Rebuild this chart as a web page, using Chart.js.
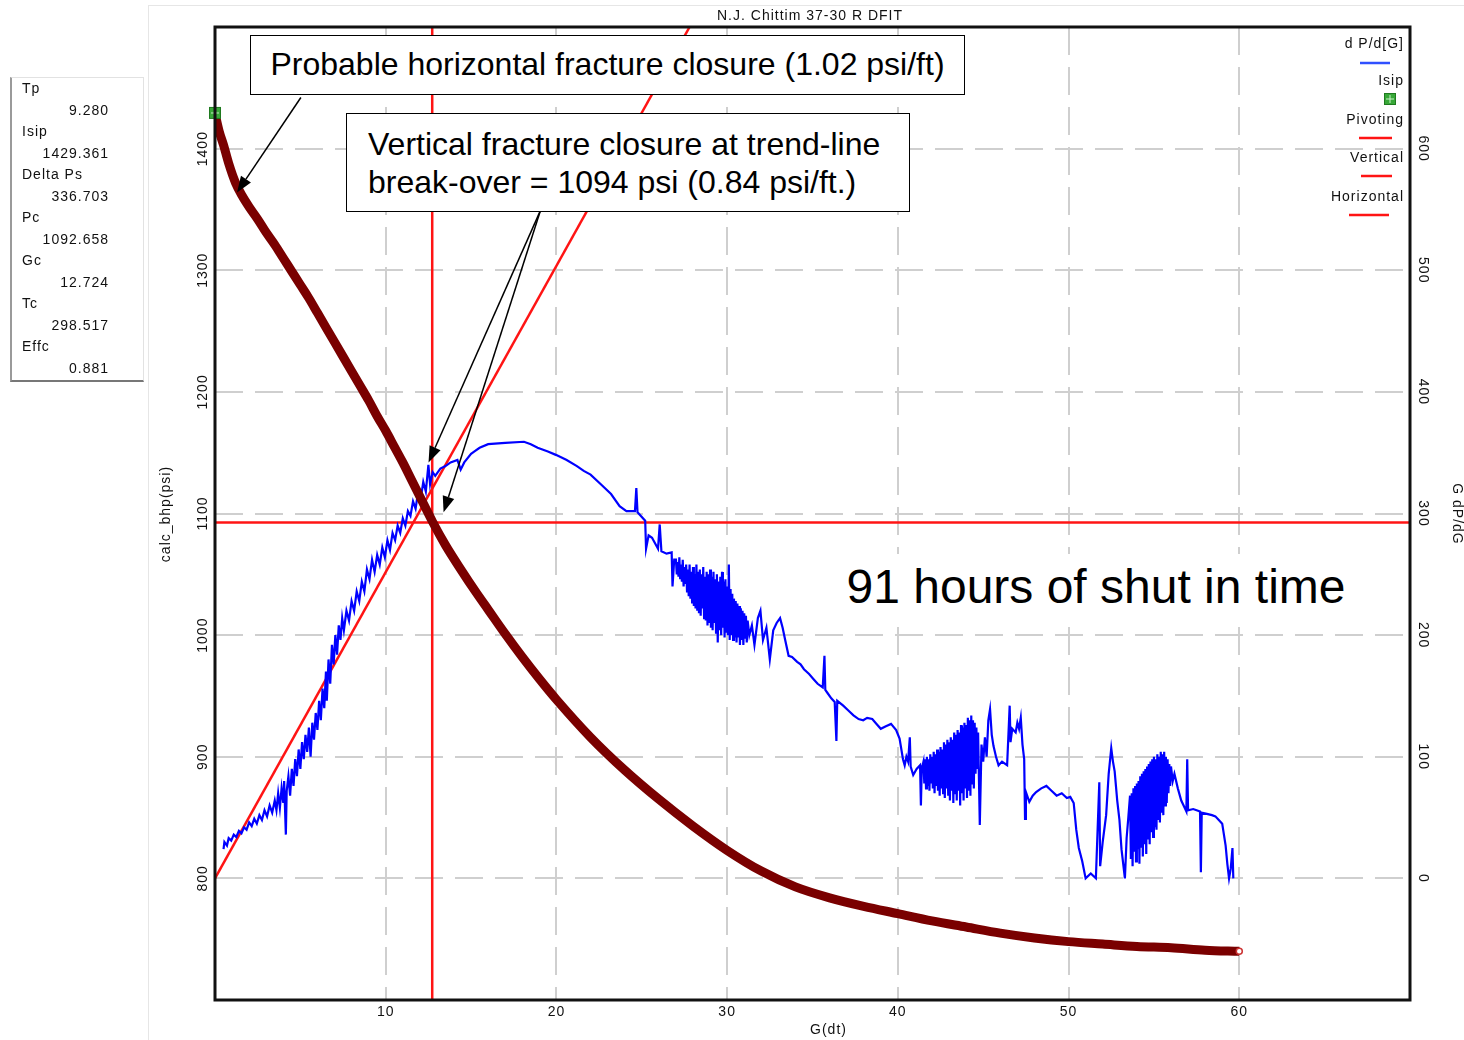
<!DOCTYPE html>
<html>
<head>
<meta charset="utf-8">
<script src="https://cdn.jsdelivr.net/npm/chart.js@4.4.1/dist/chart.umd.min.js"></script>
<style>
  body { margin: 0; background: #fff; font-family: "Liberation Sans", Arial, sans-serif; }
  #wrap { position: relative; width: 1464px; height: 1040px; overflow: hidden; }
  #dfit { position: absolute; left: 0; top: 0; }
  .frameV { position: absolute; left: 148px; top: 5px; width: 1px; height: 1035px; background: #e6e6e6; }
  .frameH { position: absolute; left: 148px; top: 5px; width: 1316px; height: 1px; background: #e6e6e6; }
  .panel { position: absolute; left: 10px; top: 77px; width: 131px; height: 302px;
           border-left: 2px solid #9a9a9a; border-bottom: 2px solid #777; border-top: 1px solid #e2e2e2; border-right: 1px solid #e2e2e2;
           font-size: 14px; letter-spacing: 1px; color: #111; }
  .panel div { height: 21.5px; line-height: 21.5px; }
  .panel .lbl { padding-left: 10px; }
  .panel .val { text-align: right; padding-right: 34px; }
  .note { position: absolute; background: #fff; border: 1.5px solid #000; font-size: 32px; color: #000; box-sizing: border-box; }
  .big { position: absolute; background: #fff; font-size: 48px; color: #000; }
</style>
</head>
<body>
<div id="wrap">
  <canvas id="dfit" width="1464" height="1040"></canvas>
  <div class="frameV"></div>
  <div class="frameH"></div>
  <div class="panel" id="panel"></div>
  <div class="note" style="left:250px;top:35px;width:715px;height:60px;line-height:57px;text-align:center;">Probable horizontal fracture closure (1.02 psi/ft)</div>
  <div class="note" style="left:346px;top:113px;width:564px;height:99px;line-height:38px;padding:11px 0 0 21px;">Vertical fracture closure at trend-line<br>break-over = 1094 psi (0.84 psi/ft.)</div>
  <div class="big" style="left:838px;top:554px;width:516px;height:70px;line-height:66px;text-align:center;">91 hours of shut in time</div>
</div>
<script>
// summary panel
const panelLabels = ["Tp", "Isip", "Delta Ps", "Pc", "Gc", "Tc", "Effc"];
const panelValues = ["9.280", "1429.361", "336.703", "1092.658", "12.724", "298.517", "0.881"];

// axis ticks
const xTicks = [10, 20, 30, 40, 50, 60];
const yTicks = [800, 900, 1000, 1100, 1200, 1300, 1400];
const y2Ticks = [0, 100, 200, 300, 400, 500, 600];

// closure picks
const isip = 1429.361;
const pc = 1092.658;
const gc = 12.724;
// straight trend line through origin on G dP/dG (G, value)
const trendG = [0, 27.8];
const trendV = [0, 700];

// bottom-hole pressure vs G(dt)
const pressureG = [0, 0.25, 0.5, 0.8, 1.2, 1.6, 2.0, 2.5, 3.0, 3.5, 4.0, 4.5, 5.0, 5.5, 6.0, 6.5, 7.0, 7.5, 8.0, 8.5,
  9.0, 9.5, 10.0, 10.5, 11.0, 11.5, 12.0, 12.75, 13.5, 14.4, 15.3, 16, 17, 18, 19, 20, 22, 24, 26, 28,
  30, 32, 34, 36, 38, 40, 42, 44, 46, 48, 50, 52, 54, 56, 58, 60];
const pressurePsi = [1429, 1414, 1403, 1388, 1372, 1361, 1352, 1342, 1331, 1321, 1310, 1299, 1288, 1277, 1265, 1253, 1241, 1229, 1217, 1205,
  1193, 1180, 1168, 1155, 1142, 1128, 1114, 1093, 1074, 1054, 1035, 1021, 1001, 982, 964, 947, 916, 889, 865, 843,
  823, 806, 793, 784, 777, 771, 765, 760, 755, 751, 748, 746, 744, 743, 741, 740];

// G dP/dG readings [G, value]
const gdpdgPoints = [
  [0.5,24],[0.55,30],[0.7,27],[0.8,33],[0.95,31],[1.1,36],[1.25,34],[1.4,39],[1.55,37],[1.7,42],[1.85,40],[2.0,46],
  [2.15,43],[2.3,49],[2.45,45],[2.6,52],[2.75,48],[2.9,56],[3.05,51],[3.2,60],[3.35,54],[3.5,64],[3.6,56],[3.7,70],
  [3.8,58],[3.9,74],[4.0,62],[4.05,80],[4.15,36],[4.2,72],[4.3,84],[4.4,68],[4.5,90],[4.6,76],[4.7,98],[4.8,84],
  [4.9,106],[5.0,90],[5.1,112],[5.2,98],[5.3,118],[5.4,104],[5.5,124],[5.6,100],[5.7,128],[5.8,114],[5.9,136],[6.0,122],
  [6.1,146],[6.2,130],[6.3,156],[6.4,140],[6.5,170],[6.55,146],[6.65,180],[6.75,160],[6.85,192],[6.95,176],[7.05,200],
  [7.15,184],[7.25,208],[7.35,196],[7.45,214],[7.55,204],[7.7,220],[7.85,212],[8.0,228],[8.15,220],[8.3,236],[8.45,228],
  [8.6,244],[8.75,236],[8.9,254],[9.05,246],[9.2,262],[9.35,252],[9.5,266],[9.65,258],[9.8,272],[9.95,264],[10.1,278],
  [10.25,270],[10.4,284],[10.55,278],[10.7,290],[10.85,284],[11.0,296],[11.15,290],[11.3,302],[11.45,298],[11.6,310],
  [11.75,304],[11.9,318],[12.05,312],[12.2,326],[12.35,318],[12.5,340],[12.6,324],[12.75,334],[12.9,331],[13.2,337],
  [13.5,339],[13.8,342],[14.2,344],[14.39,336],[14.6,342],[15.0,349],[15.2,351],[15.5,354],[16.0,357],[17.0,358],
  [18.1,359],[18.5,357],[18.9,354],[19.5,351],[20.0,348],[20.6,344],[21.2,339],[21.6,335],[22.0,332],[22.6,324],
  [23.2,316],[23.7,306],[24.1,302],[24.6,302],[24.68,321],[24.75,301],[25.2,294],[25.25,271],[25.4,282],[25.6,280],
  [25.95,271],[26.05,291],[26.15,269],[26.45,267],[26.75,268],[26.8,240],[26.9,262],
  [27.0,262],[27.05,250],[27.1,260],[27.15,248],[27.2,264],[27.25,246],[27.3,258],[27.35,244],[27.4,262],[27.45,240],
  [27.5,256],[27.55,242],[27.6,258],[27.65,236],[27.7,254],[27.75,232],[27.8,258],[27.85,230],[27.9,252],[27.95,226],
  [28.0,256],[28.05,224],[28.1,250],[28.15,222],[28.2,258],[28.25,220],[28.3,252],[28.35,218],[28.4,254],[28.45,216],
  [28.5,250],[28.55,222],[28.6,256],[28.65,214],[28.7,248],[28.75,212],[28.8,252],[28.85,208],[28.9,250],[28.95,210],
  [29.0,254],[29.05,206],[29.1,248],[29.15,204],[29.2,252],[29.25,210],[29.3,246],[29.35,202],[29.4,250],[29.45,194],
  [29.5,244],[29.55,204],[29.6,248],[29.65,200],[29.7,252],[29.75,206],[29.8,244],[29.85,198],[29.9,246],[29.95,202],
  [30.0,240],[30.05,200],[30.1,258],[30.15,196],[30.2,238],[30.25,200],[30.3,234],[30.35,196],[30.4,230],[30.45,198],
  [30.5,228],[30.55,194],[30.6,226],[30.65,198],[30.7,224],[30.75,192],[30.8,222],[30.85,196],[30.9,220],[30.95,192],
  [31.0,218],[31.05,198],[31.1,216],[31.15,194],[31.2,212],[31.3,200],
  [31.45,208],[31.6,192],[31.8,214],[31.95,220],[32.1,196],[32.3,206],
  [32.5,180],[32.7,204],[32.9,210],[33.1,214],[33.25,206],[33.4,196],[33.6,183],[33.8,182],[34.1,178],[34.3,176],
  [34.5,172],[34.8,168],[35.05,164],[35.3,160],[35.6,157],[35.7,183],[35.75,155],[35.9,152],[36.1,148],[36.3,145],
  [36.4,113],[36.45,146],[36.8,142],[37.1,138],[37.4,134],[37.7,131],[37.97,130],[38.2,132],[38.5,131],[38.75,127],
  [39.0,123],[39.3,125],[39.6,127],[39.9,122],[40.1,115],[40.3,98],[40.4,93],[40.5,100],[40.6,96],[40.7,116],
  [40.75,92],[40.9,85],[41.1,90],[41.3,93],[41.35,60],[41.4,90],
  [41.5,96],[41.55,78],[41.6,98],[41.65,74],[41.7,100],[41.75,76],[41.8,98],[41.85,72],[41.9,102],[41.95,78],
  [42.0,100],[42.05,74],[42.1,104],[42.15,70],[42.2,102],[42.25,76],[42.3,106],[42.35,72],[42.4,104],[42.45,68],
  [42.5,108],[42.55,74],[42.6,106],[42.65,70],[42.7,112],[42.75,66],[42.8,110],[42.85,74],[42.9,114],[42.95,68],
  [43.0,112],[43.05,64],[43.1,116],[43.15,72],[43.2,114],[43.25,62],[43.3,120],[43.35,70],[43.4,118],[43.45,64],
  [43.5,122],[43.55,72],[43.6,120],[43.65,60],[43.7,126],[43.75,70],[43.8,124],[43.85,64],[43.9,128],[43.95,74],
  [44.0,126],[44.05,66],[44.1,132],[44.15,72],[44.2,130],[44.25,68],[44.3,134],[44.35,78],[44.4,130],[44.45,74],
  [44.5,128],[44.55,86],[44.6,124],[44.65,90],[44.7,120],
  [44.8,44],[44.9,110],[45.0,96],[45.1,116],[45.2,100],[45.3,130],[45.4,139],[45.5,118],[45.6,109],[45.75,100],
  [45.9,93],[46.1,96],[46.4,93],[46.55,142],[46.6,112],[46.7,123],[46.9,120],[47.0,128],[47.1,123],[47.2,132],
  [47.3,110],[47.4,98],[47.45,49],[47.5,71],[47.7,63],[47.9,68],[48.1,71],[48.4,74],[48.7,76],[49.0,72],[49.3,68],
  [49.6,70],[49.9,66],[50.1,67],[50.3,62],[50.45,40],[50.6,25],[50.8,14],[51.0,0],[51.3,4],[51.6,0],[51.8,79],
  [51.85,10],[52.0,30],[52.2,52],[52.35,86],[52.5,107],[52.6,96],[52.7,88],[52.85,64],[52.98,48],[53.1,24],[53.3,0],
  [53.4,33],[53.5,50],
  [53.6,68],[53.65,16],[53.7,70],[53.75,10],[53.8,74],[53.85,22],[53.9,76],[53.95,14],[54.0,78],[54.05,24],
  [54.1,80],[54.15,12],[54.2,84],[54.25,26],[54.3,86],[54.35,18],[54.4,88],[54.45,28],[54.5,90],[54.55,20],
  [54.6,92],[54.65,32],[54.7,94],[54.75,28],[54.8,96],[54.85,38],[54.9,98],[54.95,34],[55.0,100],[55.05,42],
  [55.1,98],[55.15,40],[55.2,102],[55.25,48],[55.3,100],[55.35,46],[55.4,104],[55.45,54],[55.5,102],[55.55,52],
  [55.6,104],[55.65,60],[55.7,100],[55.75,62],[55.8,98],[55.85,70],[55.9,94],[55.95,76],[56.0,92],
  [56.1,80],[56.2,86],[56.4,74],[56.6,64],[56.8,58],[56.9,55],[56.95,98],[57.0,56],
  [57.3,57],[57.5,56],[57.7,55],[57.75,5],[57.8,54],[58.1,53],[58.4,52],[58.6,51],[58.8,48],[59.0,45],[59.1,36],
  [59.2,27],[59.3,12],[59.4,0],[59.5,8],[59.6,25],[59.65,0]
];

// arrows from the callouts, in data coordinates [G, psi]
const arrows = [
  { from: [5.03, 1442], to: [1.29, 1364] },
  { from: [19.06, 1349], to: [12.51, 1142] },
  { from: [19.06, 1349], to: [13.39, 1101] }
];

const panel = document.getElementById("panel");
panelLabels.forEach((l, i) => {
  panel.insertAdjacentHTML("beforeend", '<div class="lbl">' + l + '</div><div class="val">' + panelValues[i] + '</div>');
});

const RED = "#ff1414";
const FONT = '14px "Liberation Sans", Arial, sans-serif';

function isipSymbol() {
  const c = document.createElement("canvas");
  c.width = 14; c.height = 14;
  const g = c.getContext("2d");
  g.fillStyle = "#38a838";
  g.fillRect(1, 1, 12, 12);
  g.strokeStyle = "#1f7a1f";
  g.lineWidth = 1;
  g.strokeRect(1.5, 1.5, 11, 11);
  g.strokeStyle = "#c8f0c8";
  g.beginPath();
  g.moveTo(7, 3); g.lineTo(7, 11);
  g.moveTo(3, 7); g.lineTo(11, 7);
  g.stroke();
  return c;
}
const isipIcon = isipSymbol();

function setTicks(list) {
  return (scale) => { scale.ticks = list.map((v) => ({ value: v })); };
}

const decorations = {
  id: "decorations",
  afterDraw(chart) {
    const { ctx, chartArea: a, scales } = chart;
    const x = scales.x, y = scales.y, y2 = scales.y2;
    ctx.save();
    ctx.strokeStyle = "#111";
    ctx.lineWidth = 3;
    ctx.strokeRect(a.left, a.top, a.right - a.left, a.bottom - a.top);

    ctx.fillStyle = "#111";
    ctx.font = FONT;
    ctx.letterSpacing = "1px";
    ctx.textAlign = "center";
    ctx.textBaseline = "middle";
    xTicks.forEach((v) => ctx.fillText(String(v), x.getPixelForValue(v), a.bottom + 12));
    yTicks.forEach((v) => {
      ctx.save();
      ctx.translate(a.left - 12, y.getPixelForValue(v));
      ctx.rotate(-Math.PI / 2);
      ctx.fillText(String(v), 0, 0);
      ctx.restore();
    });
    y2Ticks.forEach((v) => {
      ctx.save();
      ctx.translate(a.right + 13, y2.getPixelForValue(v));
      ctx.rotate(Math.PI / 2);
      ctx.fillText(String(v), 0, 0);
      ctx.restore();
    });
    // axis titles
    ctx.fillText("G(dt)", (a.left + a.right) / 2 + 16, a.bottom + 30);
    ctx.fillText("N.J. Chittim 37-30 R DFIT", 810, 16);
    ctx.save();
    ctx.translate(166, 514);
    ctx.rotate(-Math.PI / 2);
    ctx.fillText("calc_bhp(psi)", 0, 0);
    ctx.restore();
    ctx.save();
    ctx.translate(1457, 514);
    ctx.rotate(Math.PI / 2);
    ctx.fillText("G dP/dG", 0, 0);
    ctx.restore();

    // legend
    ctx.textAlign = "right";
    const lx = a.right - 6;
    ctx.fillText("d P/d[G]", lx, 44);
    ctx.fillText("Isip", lx, 81);
    ctx.fillText("Pivoting", lx, 120);
    ctx.fillText("Vertical", lx, 158);
    ctx.fillText("Horizontal", lx, 197);
    ctx.lineWidth = 2.5;
    ctx.strokeStyle = "#3050ff";
    ctx.beginPath(); ctx.moveTo(1360, 63); ctx.lineTo(1390, 63); ctx.stroke();
    ctx.strokeStyle = RED;
    ctx.beginPath(); ctx.moveTo(1359, 138); ctx.lineTo(1392, 138); ctx.stroke();
    ctx.beginPath(); ctx.moveTo(1361, 176); ctx.lineTo(1392, 176); ctx.stroke();
    ctx.beginPath(); ctx.moveTo(1349, 215); ctx.lineTo(1389, 215); ctx.stroke();
    ctx.drawImage(isipIcon, 1383, 92);

    // arrows
    ctx.strokeStyle = "#000";
    ctx.fillStyle = "#000";
    ctx.lineWidth = 1.5;
    arrows.forEach((ar) => {
      const x0 = x.getPixelForValue(ar.from[0]), y0 = y.getPixelForValue(ar.from[1]);
      const x1 = x.getPixelForValue(ar.to[0]), y1 = y.getPixelForValue(ar.to[1]);
      const ang = Math.atan2(y1 - y0, x1 - x0);
      const len = 16, half = 6;
      const bx = x1 - len * Math.cos(ang), by = y1 - len * Math.sin(ang);
      ctx.beginPath(); ctx.moveTo(x0, y0); ctx.lineTo(bx, by); ctx.stroke();
      ctx.beginPath();
      ctx.moveTo(x1, y1);
      ctx.lineTo(bx + half * Math.sin(ang), by - half * Math.cos(ang));
      ctx.lineTo(bx - half * Math.sin(ang), by + half * Math.cos(ang));
      ctx.closePath();
      ctx.fill();
    });
    ctx.restore();
  }
};

const dashGrid = { color: "#cfcfcf", lineWidth: 2, drawTicks: false };

new Chart(document.getElementById("dfit"), {
  type: "scatter",
  data: {
    datasets: [
      {
        label: "Isip",
        data: [{ x: 0, y: isip }],
        yAxisID: "y",
        pointStyle: isipIcon,
        pointRadius: 7,
        clip: false,
        order: 0
      },
      {
        label: "end",
        data: [{ x: pressureG[pressureG.length - 1], y: pressurePsi[pressurePsi.length - 1] }],
        yAxisID: "y",
        pointStyle: "circle",
        pointRadius: 3,
        backgroundColor: "#fff",
        borderColor: "#cc3333",
        borderWidth: 1.5,
        clip: false,
        order: 0
      },
      {
        label: "calc_bhp",
        data: pressureG.map((g, i) => ({ x: g, y: pressurePsi[i] })),
        yAxisID: "y",
        showLine: true,
        borderColor: "#7a0000",
        borderWidth: 9,
        borderJoinStyle: "round",
        pointRadius: 0,
        cubicInterpolationMode: "monotone",
        order: 1
      },
      {
        label: "d P/d[G]",
        data: gdpdgPoints.map((p) => ({ x: p[0], y: p[1] })),
        yAxisID: "y2",
        showLine: true,
        borderColor: "#0000ff",
        borderWidth: 2.2,
        pointRadius: 0,
        order: 2
      },
      {
        label: "Vertical",
        data: trendG.map((g, i) => ({ x: g, y: trendV[i] })),
        yAxisID: "y2",
        showLine: true,
        borderColor: RED,
        borderWidth: 2.5,
        pointRadius: 0,
        order: 3
      },
      {
        label: "Horizontal",
        data: [{ x: 0, y: pc }, { x: 70, y: pc }],
        yAxisID: "y",
        showLine: true,
        borderColor: RED,
        borderWidth: 2.5,
        pointRadius: 0,
        order: 3
      },
      {
        label: "Pivoting",
        data: [{ x: gc, y: 700 }, { x: gc, y: 1500 }],
        yAxisID: "y",
        showLine: true,
        borderColor: RED,
        borderWidth: 2.5,
        pointRadius: 0,
        order: 3
      }
    ]
  },
  options: {
    responsive: false,
    animation: false,
    devicePixelRatio: 1,
    events: [],
    layout: { padding: { left: 215, right: 54, top: 27, bottom: 40 } },
    plugins: { legend: { display: false }, tooltip: { enabled: false } },
    scales: {
      x: {
        type: "linear",
        min: 0,
        max: 70,
        afterBuildTicks: setTicks(xTicks),
        afterFit: (s) => { s.height = 0; },
        ticks: { display: false },
        border: { display: false, dash: [28, 12] },
        grid: dashGrid
      },
      y: {
        position: "left",
        min: 700,
        max: 1500,
        afterBuildTicks: setTicks(yTicks),
        afterFit: (s) => { s.width = 0; },
        ticks: { display: false },
        border: { display: false, dash: [28, 12] },
        grid: dashGrid
      },
      y2: {
        position: "right",
        min: -100,
        max: 700,
        afterBuildTicks: setTicks(y2Ticks),
        afterFit: (s) => { s.width = 0; },
        ticks: { display: false },
        border: { display: false },
        grid: { display: false }
      }
    }
  },
  plugins: [decorations]
});
</script>
</body>
</html>
